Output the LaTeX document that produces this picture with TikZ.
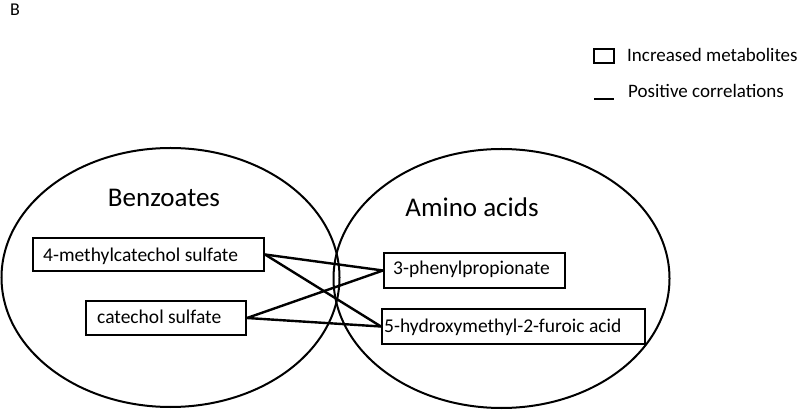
\documentclass[tikz,border=0pt]{standalone}
\usepackage{fontspec}
\setmainfont{Carlito}
\tikzset{
  grp/.style={draw, line width=2pt},
  met/.style={draw, line width=2pt, inner sep=0pt, anchor=north west},
  mtxt/.style={font=\fontsize{19.5}{22}\selectfont, anchor=base west, inner sep=0pt},
  corr/.style={line width=2.4pt},
  ttl/.style={font=\fontsize{27}{30}\selectfont, anchor=base, inner sep=0pt},
  leg/.style={font=\fontsize{19}{22}\selectfont, anchor=base west, inner sep=0pt}
}
\begin{document}
\begin{tikzpicture}[x=1pt,y=-1pt]
\useasboundingbox (0,0) rectangle (800,411);
\node[font=\fontsize{18}{20}\selectfont, anchor=base west, inner sep=0pt] (lblB) at (10,16) {B};
% groups
\draw[grp] (170.5,277.5) ellipse [x radius=169, y radius=129.5];
\draw[grp] (501.5,278.5) ellipse [x radius=168, y radius=129.5];
\node[ttl] (benz) at (164,207) {Benzoates};
\node[ttl] (amino) at (472,217) {Amino acids};
% metabolites
\node[met, minimum width=231pt, minimum height=33pt] (mc) at (32,237) {};
\node[mtxt] (mct) at (43,262) {4-methylcatechol sulfate};
\node[met, minimum width=160pt, minimum height=34pt] (cs) at (85,300) {};
\node[mtxt] (cst) at (97,324) {catechol sulfate};
\node[met, minimum width=181pt, minimum height=35pt] (pp) at (383,252) {};
\node[mtxt] (ppt) at (393,275) {3-phenylpropionate};
\node[met, minimum width=263pt, minimum height=35pt] (hf) at (381,308) {};
\node[mtxt] (hft) at (384,333) {5-hydroxymethyl-2-furoic acid};
% correlations
\draw[corr] (mc.east) -- (pp.west);
\draw[corr] (mc.east) -- (hf.west);
\draw[corr] (cs.east) -- (pp.west);
\draw[corr] (cs.east) -- (hf.west);
% legend
\node[draw, line width=2.8pt, minimum width=20pt, minimum height=14pt, inner sep=0pt] (legbox) at (604,56) {};
\node[leg] (legbt) at (627,62) {Increased metabolites};
\coordinate (la) at (594,99);
\coordinate (lb) at (614,99);
\draw[line width=2.8pt] (la) -- (lb);
\node[leg] (leglt) at (628,98) {Positive correlations};
\end{tikzpicture}
\end{document}
